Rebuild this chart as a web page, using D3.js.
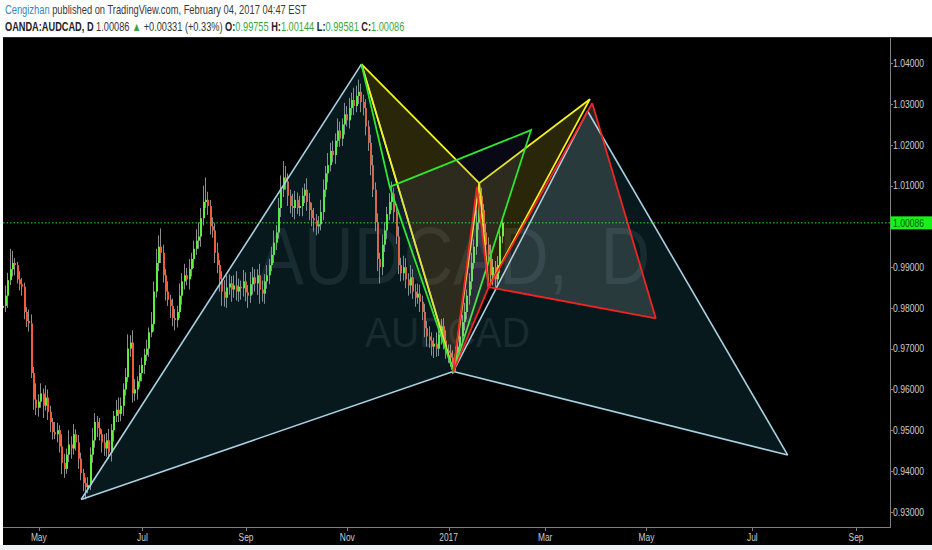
<!DOCTYPE html>
<html><head><meta charset="utf-8">
<script src="https://cdn.jsdelivr.net/npm/d3@7"></script>
<style>html,body{margin:0;padding:0;background:#fff;}svg{display:block;}</style>
</head><body>
<svg id="c" width="932" height="550"></svg>
<script>
// ---------------- DATA ----------------
const startDate = "2016-04-11";
const holidays = ["2016-12-26", "2017-01-02"];
const firstOpen = 0.9800;
const closes = [
 0.9805,0.9830,0.9868,0.9895,0.9910,0.9905,0.9870,0.9858,0.9852,0.9790,0.9768,0.9762,0.9640,0.9575,0.9555,
 0.9570,0.9590,0.9560,0.9580,0.9545,0.9520,0.9495,0.9490,0.9500,0.9460,
 0.9420,0.9405,0.9440,0.9465,0.9455,0.9490,0.9470,0.9430,0.9395,0.9370,
 0.9360,0.9365,0.9440,0.9475,0.9520,0.9505,0.9490,0.9470,0.9455,0.9475,
 0.9445,0.9500,0.9535,0.9550,0.9540,0.9560,0.9600,0.9630,0.9700,0.9715,
 0.9590,0.9600,0.9620,0.9640,0.9660,0.9685,0.9700,0.9740,0.9760,0.9840,
 0.9910,0.9950,0.9935,0.9880,0.9840,0.9820,0.9805,0.9775,0.9770,0.9790,
 0.9830,0.9865,0.9880,0.9870,0.9895,0.9920,0.9945,0.9965,0.9975,1.0020,
 1.0060,1.0065,1.0050,1.0000,0.9990,0.9935,0.9905,0.9870,0.9840,0.9825,
 0.9850,0.9860,0.9845,0.9855,0.9840,0.9852,0.9848,0.9865,0.9838,0.9830,
 0.9858,0.9875,0.9860,0.9880,0.9845,0.9835,0.9865,0.9880,0.9905,0.9930,
 0.9960,0.9985,1.0045,1.0090,1.0120,1.0110,1.0075,1.0050,1.0045,1.0065,
 1.0045,1.0050,1.0075,1.0090,1.0060,1.0040,1.0020,1.0015,1.0000,1.0005,
 1.0035,1.0090,1.0130,1.0150,1.0185,1.0175,1.0210,1.0235,1.0215,1.0250,
 1.0275,1.0260,1.0290,1.0310,1.0295,1.0320,1.0330,1.0305,1.0290,1.0245,
 1.0205,1.0150,1.0090,1.0010,0.9920,0.9900,0.9955,0.9990,1.0030,1.0060,
 1.0080,1.0035,0.9975,0.9905,0.9885,0.9900,0.9870,0.9855,0.9875,0.9840,
 0.9825,0.9835,0.9815,0.9790,0.9750,0.9730,0.9720,0.9705,0.9712,0.9700,
 0.9735,0.9755,0.9720,0.9695,0.9690,0.9678,0.9665,0.9690,0.9705,0.9730,
 0.9765,0.9790,0.9830,0.9865,0.9910,0.9950,1.0010,1.0075,1.0040,0.9985,
 0.9955,0.9930,0.9880,0.9900,0.9870,0.9905,0.99755,1.00086
];
// wick lengths in pips (0.0001) above max(open,close) and below min(open,close)
const upperWickPips = [
 10,25,18,50,30,12,8,20,15,10, 12,28,22,15,40,18,25,12,30,20,
 15,10,25,18,12,30,22,15,35,20, 25,12,18,15,10,14,20,18,30,22,
 15,25,12,20,18,28,15,12,24,30, 20,15,22,35,18,30,25,12,20,18,
 15,22,12,30,25,35,28,45,20,15, 25,12,18,22,15,30,20,28,18,25,
 15,20,28,35,25,40,55,20,15,22, 18,25,12,20,28,30,22,18,25,35,
 20,15,28,22,18,30,25,20,15,28, 22,18,25,15,20,30,18,25,35,40,
 28,20,15,30,22,18,25,20,15,28, 22,18,25,15,20,30,25,18,30,20,
 25,18,30,22,15,28,20,25,18,30, 25,30,20,18,22,15,20,25,18,22,
 15,25,20,18,22,30,15,20,25,18, 28,22,15,30,20,18,25,22,15,20,
 18,25,20,15,28,22,18,20,25,15, 20,18,15,25,20,18,22,15,20,25,
 18,30,25,20,15,22,18,25,20,15, 22,20,6
];
const lowerWickPips = [
 20,15,30,12,18,25,10,15,22,18, 15,20,12,25,18,22,15,30,12,20,
 25,18,12,20,15,28,22,12,18,25, 15,20,25,18,20,30,15,12,20,18,
 22,15,25,18,20,15,22,28,15,20, 18,25,15,12,20,22,18,25,15,20,
 22,15,20,12,18,15,20,25,18,22, 15,30,20,25,18,15,22,20,15,25,
 18,22,15,20,25,18,15,22,20,18, 25,20,30,35,22,25,18,30,20,22,
 25,28,20,22,30,18,25,20,28,35, 20,25,18,22,15,20,18,15,22,18,
 20,25,18,22,28,15,20,25,18,22, 25,20,28,22,18,15,20,18,22,15,
 18,22,15,20,18,25,15,20,18,22, 15,20,25,18,22,20,25,18,22,30,
 40,20,18,22,15,20,25,18,22,20, 18,22,25,20,18,22,15,25,20,22,
 25,18,22,28,20,18,25,22,20,25, 22,28,20,18,22,15,20,18,22,20,
 15,20,18,22,25,20,18,22,25,20, 18,20,17
];
const lastPrice = 1.00086;
const priceTicks = [0.93,0.94,0.95,0.96,0.97,0.98,0.99,1.00,1.01,1.02,1.03,1.04];
const monthTickDates  = ["2016-05-02","2016-07-01","2016-09-01","2016-11-01","2017-01-03","2017-03-01","2017-05-01","2017-07-03","2017-09-01"];
const monthTickLabels = ["May","Jul","Sep","Nov","2017","Mar","May","Jul","Sep"];
// harmonic pattern drawings: X, A, B, C, D
const bluePattern   = [["2016-05-26",0.9330],["2016-11-09",1.0398],["2017-01-05",0.9644],["2017-03-27",1.0283],["2017-07-24",0.9439]];
const yellowPattern = [["2016-11-09",1.0398],["2017-01-05",0.9644],["2017-01-20",1.0106],["2017-01-26",0.9851],["2017-03-28",1.0312]];
const redPattern    = [["2017-01-05",0.9644],["2017-01-19",1.0096],["2017-01-26",0.9851],["2017-03-29",1.0302],["2017-05-05",0.9774]];
const greenPoints   = [["2016-11-09",1.0398],["2016-11-25",1.0097],["2017-01-05",0.9644],["2017-02-21",1.0236]];

// ---------------- SETUP ----------------
const svg = d3.select("#c");
const W = 932, H = 550;
const plot = {left: 3, right: 890, top: 38, bottom: 527};

const parse = d3.utcParse("%Y-%m-%d"), fmt = d3.utcFormat("%Y-%m-%d");
const calendar = [];
for (let d = parse(startDate); d <= parse("2017-09-30"); d = d3.utcDay.offset(d, 1)) {
  const wd = d.getUTCDay(), s = fmt(d);
  if (wd === 0 || wd === 6 || holidays.includes(s)) continue;
  calendar.push(s);
}
const base = calendar.indexOf("2016-05-02");
const idx = s => calendar.indexOf(s) - base;

const x = d3.scaleLinear().domain([idx("2016-05-02"), idx("2017-09-01")]).range([38.8, 856]);
const y = d3.scaleLinear().domain([0.93, 1.04]).range([511.7, 63.3]);
const pt = p => [x(idx(p[0])), y(p[1])];

// backgrounds
svg.append("rect").attr("width", W).attr("height", H).attr("fill", "#ffffff");
svg.append("rect").attr("x", 0).attr("y", 545).attr("width", W).attr("height", 5).attr("fill", "#eef1f4");
svg.append("rect").attr("x", 3).attr("y", 37).attr("width", W - 3).attr("height", 508).attr("fill", "#000000");
svg.append("line").attr("x1", 3).attr("x2", W).attr("y1", 37.5).attr("y2", 37.5).attr("stroke", "#2a2a2a");

svg.append("clipPath").attr("id", "clip").append("rect")
  .attr("x", plot.left).attr("y", plot.top).attr("width", plot.right - plot.left).attr("height", plot.bottom - plot.top);
const g = svg.append("g").attr("clip-path", "url(#clip)");

// watermark
const wmColor = "#131618";
g.append("text").attr("transform", "translate(258,284) scale(0.84,1)")
  .attr("font-family", "Liberation Sans, Arial, sans-serif").attr("font-size", 82)
  .attr("word-spacing", 16).attr("fill", wmColor).attr("xml:space", "preserve").text("AUDCAD, D");
g.append("text").attr("transform", "translate(365,347) scale(0.93,1)")
  .attr("font-family", "Liberation Sans, Arial, sans-serif").attr("font-size", 42)
  .attr("fill", wmColor).text("AUDCAD");

// candles (snapped to the pixel grid for crisp bodies)
const candles = closes.map((c, i) => {
  const o = i === 0 ? firstOpen : closes[i - 1];
  return {date: calendar[i], o, c,
    h: Math.max(o, c) + upperWickPips[i] * 0.0001,
    l: Math.min(o, c) - lowerWickPips[i] * 0.0001};
});
const cx = d => Math.round(x(idx(d.date)));
const cg = g.append("g");
cg.selectAll("line.w").data(candles).join("line").attr("class", "w")
  .attr("x1", d => cx(d) - 0.5).attr("x2", d => cx(d) - 0.5)
  .attr("y1", d => y(d.h)).attr("y2", d => y(d.l))
  .attr("stroke", "#8c8c8c").attr("stroke-width", 1);
cg.selectAll("rect.b").data(candles).join("rect").attr("class", "b")
  .attr("x", d => cx(d) - 1).attr("width", 2)
  .attr("y", d => y(Math.max(d.o, d.c)))
  .attr("height", d => Math.max(1, Math.abs(y(d.o) - y(d.c))))
  .attr("fill", d => d.c >= d.o ? "#5cf03a" : "#f25b3a");

// pattern drawer
const line = d3.line();
function drawXABCD(pts, stroke, fill, fillOp, sw) {
  const [X, A, B, C, D] = pts.map(pt);
  const pg = g.append("g");
  [[X, A, B], [B, C, D]].forEach(tri =>
    pg.append("path").attr("d", line(tri) + "Z").attr("fill", fill).attr("fill-opacity", fillOp).attr("stroke", "none"));
  [[X, A], [A, B], [B, C], [C, D], [X, B], [B, D]].forEach(seg =>
    pg.append("path").attr("d", line(seg)).attr("fill", "none").attr("stroke", stroke).attr("stroke-width", sw));
}
drawXABCD(bluePattern, "#a9d0e2", "#34b0c8", 0.14, 1.6);
drawXABCD(yellowPattern, "#f4f41c", "#ffee3a", 0.16, 1.8);
{
  const [P0, P1, P2, P3] = greenPoints.map(pt);
  g.append("path").attr("d", line([P1, P2, P3]) + "Z").attr("fill", "#5a5ad8").attr("fill-opacity", 0.1);
  g.append("path").attr("d", line([P0, P1, P2, P3, P1])).attr("fill", "none")
    .attr("stroke", "#2ee82e").attr("stroke-width", 1.8).attr("stroke-linejoin", "miter");
}
drawXABCD(redPattern, "#f02424", "#c8d2d2", 0.18, 1.8);

// last price dotted line
g.append("line").attr("x1", plot.left).attr("x2", plot.right).attr("y1", y(lastPrice)).attr("y2", y(lastPrice))
  .attr("stroke", "#2fe02f").attr("stroke-width", 1).attr("stroke-dasharray", "1.5,2");

// axes
const axisColor = "#808080", labelColor = "#cdcdcd";
svg.append("line").attr("x1", plot.left).attr("x2", plot.right).attr("y1", plot.bottom + 0.5).attr("y2", plot.bottom + 0.5).attr("stroke", axisColor);
svg.append("line").attr("x1", plot.right + 0.5).attr("x2", plot.right + 0.5).attr("y1", plot.top).attr("y2", plot.bottom + 1).attr("stroke", axisColor);

const yax = svg.append("g");
priceTicks.forEach(p => {
  yax.append("line").attr("x1", plot.right).attr("x2", plot.right + 3).attr("y1", Math.round(y(p)) + 0.5).attr("y2", Math.round(y(p)) + 0.5).attr("stroke", axisColor);
  // the last-price label hides any tick label it would cover
  if (Math.abs(y(p) - y(lastPrice)) < 13) return;
  yax.append("text").attr("transform", `translate(893,${y(p) + 3.8}) scale(0.78,1)`)
    .attr("font-family", "Liberation Sans, Arial, sans-serif").attr("font-size", 11)
    .attr("fill", labelColor).text(d3.format(".5f")(p));
});
// last price label
svg.append("rect").attr("x", plot.right + 0.5).attr("y", y(lastPrice) - 6.5).attr("width", W - plot.right).attr("height", 13).attr("fill", "#19f019");
svg.append("text").attr("transform", `translate(893,${y(lastPrice) + 3.8}) scale(0.78,1)`)
  .attr("font-family", "Liberation Sans, Arial, sans-serif").attr("font-size", 11)
  .attr("fill", "#0b5a0b").text(d3.format(".5f")(lastPrice));

const xax = svg.append("g");
monthTickDates.forEach((d, i) => {
  const xx = Math.round(x(idx(d))) + 0.5;
  xax.append("line").attr("x1", xx).attr("x2", xx).attr("y1", plot.bottom).attr("y2", plot.bottom + 4).attr("stroke", axisColor);
  xax.append("text").attr("transform", `translate(${x(idx(d))},${541}) scale(0.8,1)`)
    .attr("text-anchor", "middle").attr("font-family", "Liberation Sans, Arial, sans-serif").attr("font-size", 10.5)
    .attr("fill", labelColor).text(monthTickLabels[i]);
});

// header
function headerLine(yy, parts, targetW) {
  const gg = svg.append("g");
  const t = gg.append("text").attr("x", 0).attr("y", 0)
    .attr("font-family", "Liberation Sans, Arial, sans-serif").attr("font-size", 12.5).attr("xml:space", "preserve");
  parts.forEach(p => t.append("tspan").attr("fill", p[1]).attr("font-weight", p[2] ? "bold" : "normal").text(p[0]));
  const w = t.node().getComputedTextLength();
  gg.attr("transform", `translate(5,${yy}) scale(${targetW / w},1)`);
}
headerLine(14, [["Cengizhan", "#2b8cc0"], [" published on TradingView.com, February 04, 2017 04:47 EST", "#3a3a3a"]], 302);
const upC = "#3aa83a", dk = "#222222";
headerLine(31, [["OANDA:AUDCAD, D", dk, 1], [" 1.00086 ", "#333"], ["▲", upC], [" +0.00331 (+0.33%) ", "#333"],
  ["O:", dk, 1], ["0.99755", upC], [" H:", dk, 1], ["1.00144", upC], [" L:", dk, 1], ["0.99581", upC],
  [" C:", dk, 1], ["1.00086", upC]], 400);
</script>
</body></html>
